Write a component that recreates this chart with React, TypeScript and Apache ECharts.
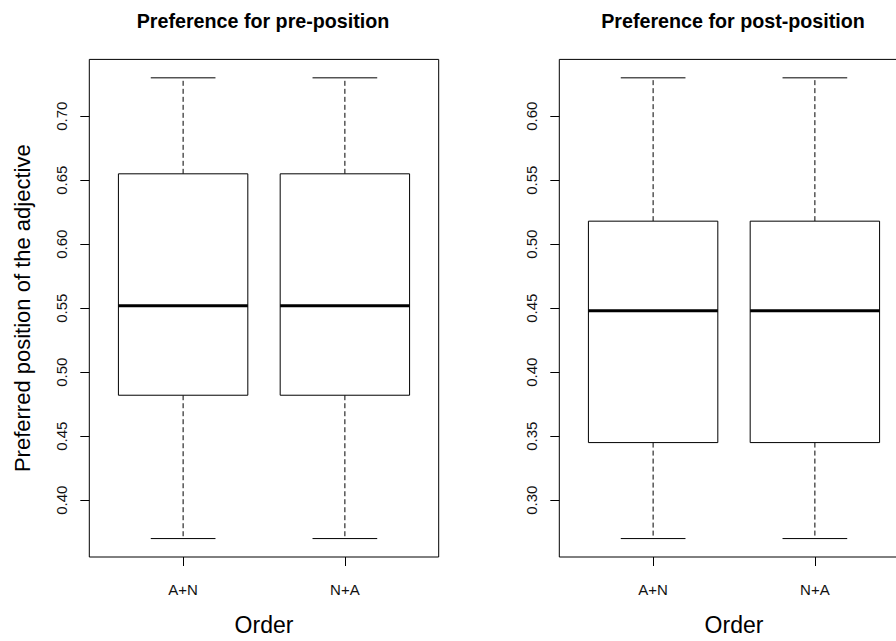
import React, { useEffect, useRef } from 'react';
import * as echarts from 'echarts';

const categories = ['A+N', 'N+A'];
const panelTitles = ['Preference for pre-position', 'Preference for post-position'];
// [min, Q1, median, Q3, max] per category
const preStats = [
  [0.37, 0.482, 0.552, 0.655, 0.73],
  [0.37, 0.482, 0.552, 0.655, 0.73],
];
const postStats = [
  [0.27, 0.345, 0.448, 0.518, 0.63],
  [0.27, 0.345, 0.448, 0.518, 0.63],
];
const preTicks = [0.4, 0.45, 0.5, 0.55, 0.6, 0.65, 0.7];
const postTicks = [0.3, 0.35, 0.4, 0.45, 0.5, 0.55, 0.6];
const yAxisTitle = 'Preferred position of the adjective';
const xAxisTitle = 'Order';

const FONT = 'Liberation Sans, Arial, Helvetica, sans-serif';

function rRange(lo: number, hi: number): [number, number] {
  const pad = (hi - lo) * 0.04;
  return [lo - pad, hi + pad];
}

const renderBox = (params: any, api: any) => {
  const x = api.value(0);
  const c = (v: number) => api.coord([x, v]);
  const boxHalf = api.size([0.4, 0])[0];
  const capHalf = boxHalf / 2;
  const pMin = c(api.value(1));
  const pQ1 = c(api.value(2));
  const pMed = c(api.value(3));
  const pQ3 = c(api.value(4));
  const pMax = c(api.value(5));
  const cx = pMin[0];
  const dashed = { stroke: '#000', lineWidth: 1, lineDash: [5, 3] };
  const solid = { stroke: '#000', lineWidth: 1 };
  return {
    type: 'group',
    children: [
      { type: 'line', shape: { x1: cx, y1: pQ3[1], x2: cx, y2: pMax[1] }, style: dashed },
      { type: 'line', shape: { x1: cx, y1: pQ1[1], x2: cx, y2: pMin[1] }, style: dashed },
      { type: 'line', shape: { x1: cx - capHalf, y1: pMax[1], x2: cx + capHalf, y2: pMax[1] }, style: solid },
      { type: 'line', shape: { x1: cx - capHalf, y1: pMin[1], x2: cx + capHalf, y2: pMin[1] }, style: solid },
      {
        type: 'rect',
        shape: { x: cx - boxHalf, y: pQ3[1], width: 2 * boxHalf, height: pQ1[1] - pQ3[1] },
        style: { fill: '#fff', stroke: '#000', lineWidth: 1 },
      },
      { type: 'line', shape: { x1: cx - boxHalf, y1: pMed[1], x2: cx + boxHalf, y2: pMed[1] }, style: { stroke: '#000', lineWidth: 3 } },
    ],
  };
};

export default function App() {
  const ref = useRef<HTMLDivElement>(null);
  useEffect(() => {
    if (!ref.current) return;
    const chart = echarts.init(ref.current, undefined, { renderer: 'svg' });
    const xr = rRange(0.5, categories.length + 0.5);
    const panels = [
      { stats: preStats, ticks: preTicks, left: 89.3 },
      { stats: postStats, ticks: postTicks, left: 559.3 },
    ];
    const gridW = 349.4;
    const grids = panels.map((p) => ({
      left: p.left,
      top: 59.4,
      width: gridW,
      height: 502.1,
      show: true,
      borderColor: '#000',
      borderWidth: 1,
      backgroundColor: 'transparent',
    }));
    const xAxes = panels.map((p, i) => ({
      type: 'value',
      gridIndex: i,
      min: xr[0],
      max: xr[1],
      splitLine: { show: false },
      axisLine: { show: false },
      axisTick: { show: true, customValues: categories.map((_, k) => k + 1), length: 9, lineStyle: { color: '#000' } },
      axisLabel: {
        show: true,
        customValues: categories.map((_, k) => k + 1),
        formatter: (v: number) => categories[Math.round(v) - 1] ?? '',
        fontFamily: FONT,
        fontSize: 15,
        color: '#111',
        margin: 25,
      },
      name: xAxisTitle,
      nameLocation: 'middle',
      nameGap: 56,
      nameTextStyle: { fontFamily: FONT, fontSize: 23, color: '#000', verticalAlign: 'top' },
    }));
    const yAxes = panels.map((p, i) => {
      const all = p.stats.flat();
      const yr = rRange(Math.min(...all), Math.max(...all));
      return {
        type: 'value',
        gridIndex: i,
        min: yr[0],
        max: yr[1],
        splitLine: { show: false },
        axisLine: { show: false },
        axisTick: { show: true, customValues: p.ticks, length: 9, lineStyle: { color: '#000' } },
        axisLabel: {
          show: true,
          customValues: p.ticks,
          formatter: (v: number) => v.toFixed(2),
          rotate: 90,
          fontFamily: FONT,
          fontSize: 15,
          color: '#111',
          margin: 20,
        },
        name: i === 0 ? yAxisTitle : '',
        nameLocation: 'middle',
        nameRotate: 90,
        nameGap: 56,
        nameTextStyle: { fontFamily: FONT, fontSize: 22, color: '#000' },
      };
    });
    const series = panels.map((p, i) => ({
      type: 'custom',
      xAxisIndex: i,
      yAxisIndex: i,
      renderItem: renderBox,
      encode: { x: 0, y: [1, 2, 3, 4, 5] },
      data: p.stats.map((s, k) => [k + 1, ...s]),
      clip: false,
    }));
    chart.setOption({
      animation: false,
      backgroundColor: '#fff',
      grid: grids,
      xAxis: xAxes,
      yAxis: yAxes,
      series,
      graphic: panels.map((p, i) => ({
        type: 'text',
        x: p.left + gridW / 2 - 1,
        y: 21,
        style: {
          text: panelTitles[i],
          font: `bold 19.7px ${FONT}`,
          fill: '#000',
          textAlign: 'center',
          textVerticalAlign: 'middle',
        },
      })),
    });
    return () => chart.dispose();
  }, []);
  return (
    <div style={{ position: 'absolute', left: 0, top: 0, width: 896, height: 641, overflow: 'hidden' }}>
      <div ref={ref} style={{ width: 912, height: 641 }} />
    </div>
  );
}
